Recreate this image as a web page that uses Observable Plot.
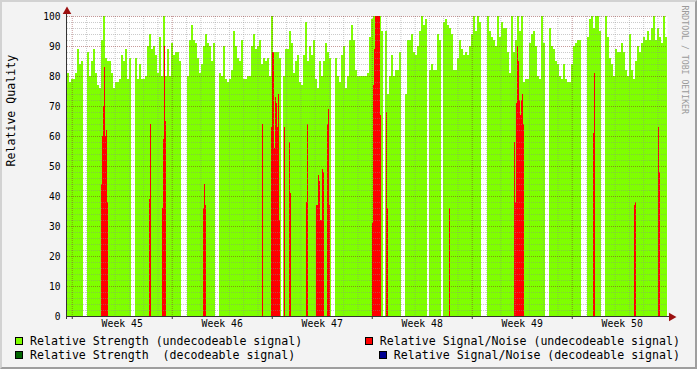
<!DOCTYPE html>
<html><head><meta charset="utf-8">
<script src="https://cdn.jsdelivr.net/npm/d3@7"></script>
<script src="https://cdn.jsdelivr.net/npm/@observablehq/plot@0.6"></script>
<style>
html,body{margin:0;padding:0;background:#f3f3f3;}
#wrap{position:relative;width:697px;height:369px;background:#f3f3f3;overflow:hidden;font-family:"DejaVu Sans Mono",monospace;}
#wrap svg{position:absolute;left:0;top:0;}
#frame{position:absolute;left:0;top:0;right:0;bottom:0;border-top:2px solid #d2d2d2;border-left:2px solid #d2d2d2;border-right:2px solid #9e9e9e;border-bottom:2px solid #9e9e9e;pointer-events:none;}
.leg{position:absolute;font-size:11.6px;white-space:pre;line-height:14px;height:14px;color:#000;display:flex;align-items:center;}
.sw{width:6px;height:6px;border:1px solid #000;margin-right:7px;flex:none;}
</style></head>
<body><div id="wrap"><div id="frame"></div></div>
<script>
// time range of the graph (6 weeks, ISO weeks 45-50)
const start = new Date(Date.UTC(2004, 9, 31, 16));
const end = new Date(Date.UTC(2004, 11, 12, 16));

// Relative Strength (undecodeable signal), 300 equal samples over the range, null = no data
const strength = [
  81,78,79,79,81,89,84,85,null,null,
  88,80,85,89,81,77,76,92,100,86,
  85,85,81,76,78,78,79,87,85,89,
  79,86,null,null,86,79,84,79,79,80,
  90,94,89,90,87,81,93,80,100,80,
  89,80,91,87,88,88,85,null,null,null,
  80,92,97,92,91,86,81,84,90,94,
  91,90,85,91,null,null,81,80,90,79,
  78,79,82,95,90,86,85,92,79,79,
  80,80,90,94,89,90,92,84,86,85,
  86,80,100,88,88,88,86,null,80,89,
  89,95,91,81,85,87,78,77,87,98,
  85,90,87,92,79,76,85,80,85,91,
  88,86,null,null,86,80,78,87,90,76,
  80,92,97,92,82,80,80,80,80,80,
  81,93,99,100,100,100,100,95,null,95,
  74,80,87,80,82,82,88,null,null,74,
  92,92,94,88,87,90,95,100,97,99,
  null,82,84,82,82,94,92,null,98,99,
  97,96,94,82,82,86,92,89,87,88,
  87,90,94,100,95,100,98,null,null,null,
  100,95,93,92,90,100,93,98,96,96,
  88,81,100,88,92,100,95,100,78,79,
  79,91,94,95,90,80,79,100,91,null,
  null,96,90,89,85,84,80,79,84,79,
  78,78,84,90,91,92,92,null,null,null,
  93,99,100,96,100,100,95,null,null,100,
  93,86,84,80,89,88,88,91,88,82,
  80,94,82,79,85,90,88,91,93,92,
  95,92,96,100,92,96,93,91,100,93
];
// Relative Strength (decodeable signal): no samples in this period
const strengthDecodeable = [];

// Relative Signal/Noise (undecodeable signal): sample index on the 600-step grid and value
const snrSamples = 600;
const snrIndex = [34,35,36,37,38,39,40, 82,83, 95,96,97,98, 136,137,138, 195,
  204,205,206,207,208,209,210,211,212, 217, 222,223, 239,240,
  249,250,251,252,253,254,255,256, 260,261,262,
  305,306,307,308,309,310,311,312,313, 319,320, 382,
  447,448,449,450,451,452,453,454,455,456, 526,527, 567,568, 591,592];
const snrValue = [44,60,70,83,60,62,38, 39,64, 36,59,90,65, 36,44,37, 64,
  63,88,88,56,73,71,63,74,32, 63, 58,41, 38,64,
  37,37,47,45,32,32,49,48, 64,69,37,
  31,77,89,100,100,100,100,100,67, 68,36, 36,
  58,38,71,90,85,72,67,72,74,64, 61,81, 37,38, 63,48];
// Relative Signal/Noise (decodeable signal): no samples in this period
const snrDecodeable = [];

const yTicks = [0,10,20,30,40,50,60,70,80,90,100];
const weekNames = ["Week 45","Week 46","Week 47","Week 48","Week 49","Week 50"];
const legendLabels = [
  "Relative Strength (undecodeable signal)",
  "Relative Strength  (decodeable signal)",
  "Relative Signal/Noise (undecodeable signal)",
  "Relative Signal/Noise (decodeable signal)"
];
const legendColors = ["#7fff00", "#006400", "#ff0000", "#000090"];
const watermark = "RRDTOOL / TOBI OETIKER";
const yLabel = "Relative Quality";

// derived tables
const span = end - start;
const step = span / strength.length;
const strengthData = strength.map((v, i) => ({t1: new Date(+start + i * step), t2: new Date(+start + (i + 1) * step), v})).filter(d => d.v != null);
const fine = span / snrSamples;
const snrData = snrIndex.map((k, i) => ({t1: new Date(+start + k * fine), t2: new Date(+start + (k + 1) * fine), v: snrValue[i]}));
const mondays = d3.utcMonday.range(start, end);
const days = d3.utcDay.range(start, end).filter(d => d.getUTCDay() !== 1);
const weekCenters = d3.utcMonday.range(d3.utcMonday.floor(start), end).map(m => d3.utcHour.offset(m, 84)).filter(c => c > start && c < end);
const minorY = d3.range(2, 100, 2).filter(v => v % 10 !== 0);
const majorY = yTicks.filter(v => v > 0);

const axisColor = "#333";
const gridMinor = {stroke: "#8c8c8c", strokeOpacity: 0.45, strokeDasharray: "1,1"};
const gridMajor = {stroke: "#821e1e", strokeOpacity: 0.45, strokeDasharray: "1,1"};

const plot = Plot.plot({
  width: 697, height: 332,
  marginLeft: 67, marginRight: 30, marginTop: 16, marginBottom: 16,
  style: {fontFamily: "'DejaVu Sans Mono', monospace", fontSize: "9.6px", background: "transparent", color: "#000", overflow: "visible"},
  x: {type: "utc", domain: [start, end]},
  y: {domain: [0, 100]},
  marks: [
    Plot.frame({fill: "white", stroke: null}),
    Plot.rectY(strengthData, {x1: "t1", x2: "t2", y: "v", fill: legendColors[0], shapeRendering: "crispEdges"}),
    Plot.rectY(strengthDecodeable, {x1: "t1", x2: "t2", y: "v", fill: legendColors[1], shapeRendering: "crispEdges"}),
    Plot.rectY(snrData, {x1: "t1", x2: "t2", y: "v", fill: legendColors[2], shapeRendering: "crispEdges"}),
    Plot.rectY(snrDecodeable, {x1: "t1", x2: "t2", y: "v", fill: legendColors[3], shapeRendering: "crispEdges"}),
    Plot.ruleY(minorY, gridMinor),
    Plot.ruleX(days, gridMinor),
    Plot.ruleY(majorY, gridMajor),
    Plot.ruleX(mondays, gridMajor),
    Plot.ruleY([0], {stroke: axisColor, insetLeft: -1, insetRight: -3}),
    Plot.ruleX([start], {stroke: axisColor, dx: -1, insetTop: -6, insetBottom: -3}),
    Plot.axisX(mondays, {tickSize: 3, tickFormat: () => "", stroke: axisColor, label: null}),
    Plot.axisY(yTicks, {tickSize: 0, tickPadding: 7, label: null, fontSize: 9.6}),
    Plot.axisX(weekCenters, {tickSize: 0, tickPadding: 4, label: null, fontSize: 9.8,
      tickFormat: d => weekNames[weekCenters.findIndex(c => +c === +d)]}),
    Plot.dot([0], {x: () => start, y: () => 100, dx: -0.5, dy: -5, symbol: "triangle", r: 3.2, fill: "#9b1010", stroke: null}),
    Plot.dot([0], {x: () => end, y: () => 0, dx: 4, dy: 0.5, symbol: "triangle", r: 3.2, rotate: 90, fill: "#9b1010", stroke: null}),
    Plot.text([yLabel], {text: d => d, frameAnchor: "left", rotate: -90, dx: -56, fontSize: 11.6, fill: "#000"}),
    Plot.text([watermark], {text: d => d, frameAnchor: "top-right", rotate: 90, textAnchor: "start", dx: 20, dy: -11, fontSize: 8.2, fill: "#9a9a9a"})
  ]
});

const wrap = document.getElementById("wrap");
wrap.insertBefore(plot, wrap.firstChild);

// legend below the svg
const legPos = [
  {left: 15, top: 334}, {left: 15, top: 348},
  {right: 17, top: 334}, {right: 17, top: 348}
];
legendLabels.forEach((lab, i) => {
  const d = document.createElement("div");
  d.className = "leg";
  const p = legPos[i];
  d.style.top = p.top + "px";
  if (p.left != null) d.style.left = p.left + "px"; else d.style.right = p.right + "px";
  const sw = document.createElement("span");
  sw.className = "sw";
  sw.style.background = legendColors[i];
  d.appendChild(sw);
  d.appendChild(document.createTextNode(lab));
  wrap.appendChild(d);
});
</script>
</body></html>
